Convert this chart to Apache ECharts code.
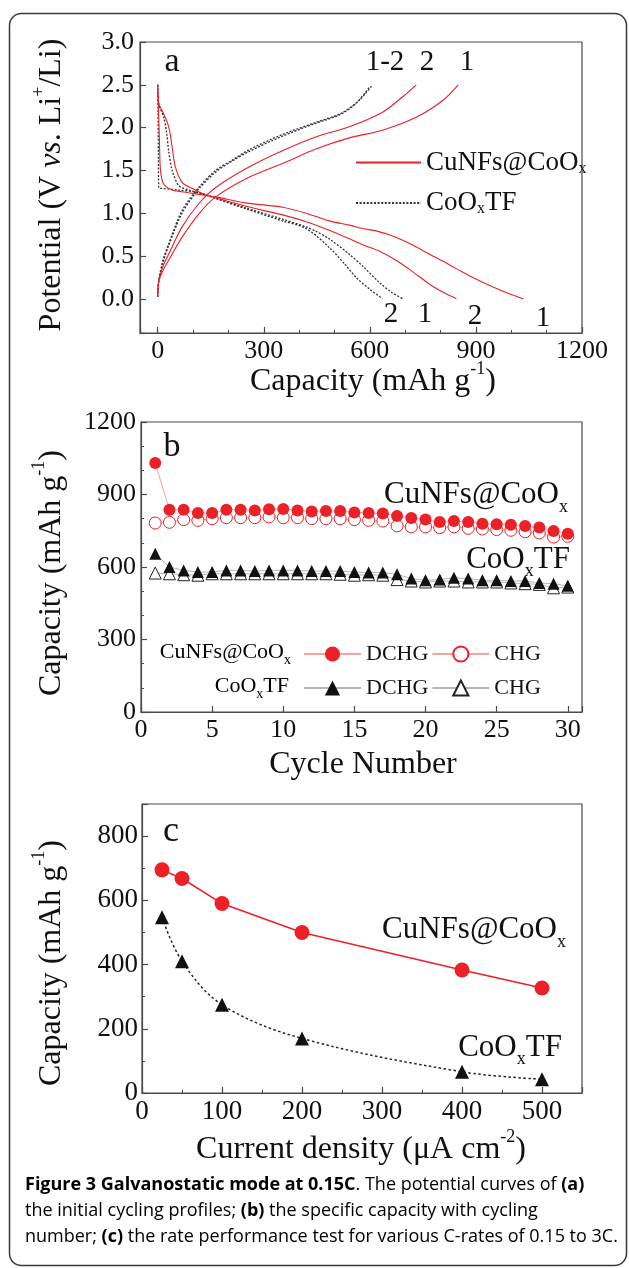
<!DOCTYPE html>
<html>
<head>
<meta charset="utf-8">
<script src="https://cdn.jsdelivr.net/npm/echarts@6/dist/echarts.min.js"></script>
<style>
  html, body { margin: 0; padding: 0; background: #fff; }
  #chart { width: 629px; height: 1268px; }
</style>
</head>
<body>
<div id="chart"></div>
<script>
// (a) potential profiles, [capacity mAh/g, potential V]
const cuDischarge1 = [[0,2.5],[2,2.25],[5,1.85],[8,1.5],[17,1.34],[41,1.27],[69,1.25],[116,1.22],[164,1.19],[250,1.12],[353,1.07],[420,1.0],[485,0.91],[542,0.86],[580,0.82],[620,0.79],[674,0.72],[720,0.63],[769,0.52],[820,0.41],[863,0.31],[910,0.21],[958,0.12],[1000,0.05],[1034,0]]
const cuDischarge2 = [[0,2.5],[3,2.28],[15,2.18],[31,2.01],[41,1.77],[50,1.54],[69,1.36],[97,1.29],[126,1.23],[164,1.18],[250,1.08],[353,0.98],[420,0.9],[485,0.8],[542,0.7],[580,0.63],[630,0.55],[674,0.45],[720,0.32],[769,0.17],[810,0.07],[845,0]]
const coDischarge1 = [[0,2.5],[1,2.2],[2,1.7],[3,1.3],[12,1.29],[60,1.27],[116,1.24],[164,1.18],[250,1.06],[353,0.93],[420,0.84],[447,0.79],[485,0.7],[542,0.52],[580,0.38],[627,0.19],[660,0.08],[693,0]]
const coDischarge2 = [[0,2.5],[3,2.28],[17,2.12],[25,1.95],[31,1.73],[41,1.5],[60,1.32],[88,1.27],[130,1.22],[164,1.17],[250,1.05],[353,0.91],[420,0.82],[485,0.6],[530,0.4],[561,0.25],[600,0.11],[636,0]]
const cuCharge1 = [[0,0.02],[3,0.2],[15,0.33],[31,0.45],[69,0.72],[116,0.99],[164,1.19],[258,1.42],[353,1.58],[447,1.75],[542,1.88],[636,1.97],[731,2.12],[807,2.32],[850,2.5]]
const cuCharge2 = [[0,0.02],[3,0.21],[15,0.38],[31,0.52],[69,0.84],[116,1.11],[164,1.3],[258,1.54],[353,1.73],[447,1.89],[542,2.01],[636,2.18],[693,2.36],[731,2.5]]
const coCharge1 = [[0,0.02],[3,0.21],[15,0.45],[31,0.64],[69,1.03],[116,1.3],[164,1.5],[211,1.62],[258,1.74],[353,1.92],[447,2.06],[520,2.17],[570,2.32],[608,2.5]]
const coCharge2 = [[0,0.02],[3,0.2],[15,0.42],[31,0.62],[69,1.0],[116,1.28],[164,1.48],[211,1.61],[258,1.72],[353,1.9],[447,2.05],[520,2.16],[565,2.3],[600,2.48]]

// (b) capacity vs cycle number
const cycleNo = [1,2,3,4,5,6,7,8,9,10,11,12,13,14,15,16,17,18,19,20,21,22,23,24,25,26,27,28,29,30]
const cuDchg = [1030,837,837,823,823,837,837,834,839,840,834,830,832,832,826,823,821,811,803,797,786,790,786,779,777,775,770,763,749,738]
const cuChg = [782,785,796,793,800,804,804,804,807,804,804,800,800,800,796,793,790,770,766,766,763,766,760,757,755,752,746,741,724,727]
const coDchg = [655,600,586,579,579,586,586,583,586,586,586,583,583,583,579,577,577,570,552,545,548,556,552,545,545,542,542,534,531,522]
const coChg = [575,572,568,566,572,572,572,572,572,572,572,572,572,570,566,568,566,548,542,538,542,542,538,538,538,534,531,528,514,517]

// (c) rate test
const currentDensity = [25,50,100,200,400,500]
const cuRate = [695,668,590,500,383,327]
const coRate = [547,410,275,170,66,43]

const serif = 'Liberation Serif'
const axisColor = '#4a4a4a'
const red = '#ec2027'
const pink = '#f4a3a3'

const zip = (xs, ys) => xs.map((x, i) => [x, ys[i]])

// rich styles for sub/superscripts
const rich = (size, lh, small, smallLh) => ({
    t: {fontFamily: serif, fontSize: size, lineHeight: lh, color: '#111'},
    i: {fontFamily: serif, fontSize: size, lineHeight: lh, fontStyle: 'italic', color: '#111'},
    sub: {fontFamily: serif, fontSize: small, lineHeight: smallLh, verticalAlign: 'bottom', color: '#111'},
    sup: {fontFamily: serif, fontSize: small, lineHeight: smallLh, verticalAlign: 'top', color: '#111'}
})

const chart = echarts.init(document.getElementById('chart'))

function axis(o) {
    return Object.assign({
        type: 'value',
        axisLine: {show: true, onZero: false, lineStyle: {color: axisColor, width: 1.2}},
        axisTick: {show: true, inside: true, length: 6, lineStyle: {color: axisColor, width: 1.2}},
        splitLine: {show: false},
    }, o)
}
const label = (size, margin, fmt) => ({color: '#111', fontFamily: serif, fontSize: size, margin: margin, formatter: fmt})

const gridBox = {show: true, borderColor: axisColor, borderWidth: 1.2, backgroundColor: 'transparent'}

const redLine = {color: red, width: 1.1}
const dotLine = {color: '#333', width: 1.3, type: [2, 1.6]}
const profile = (name, data, style) => ({
    name: name, type: 'line', xAxisIndex: 0, yAxisIndex: 0, data: data,
    showSymbol: false, symbol: 'none', smooth: 0.3, lineStyle: style, itemStyle: {color: style.color},
    silent: true, z: style === redLine ? 3 : 2
})

const txt = (x, y, text, r, extra) => Object.assign({
    type: 'text', x: x, y: y,
    style: {text: text, rich: r, align: 'center', verticalAlign: 'middle', fill: '#111'}
}, extra || {})

const option = {
    backgroundColor: '#fff',
    animation: false,
    grid: [
        Object.assign({left: 140, top: 42, width: 442, height: 291}, gridBox),
        Object.assign({left: 141, top: 422, width: 441, height: 290}, gridBox),
        Object.assign({left: 142, top: 804, width: 440, height: 289}, gridBox)
    ],
    xAxis: [
        axis({gridIndex: 0, min: -50, max: 1200, splitNumber: 4,
            minorTick: {show: true, splitNumber: 3, length: 3, lineStyle: {color: axisColor}},
            axisLabel: label(26, 5, v => (v >= 0 && v % 300 === 0) ? String(v) : '')}),
        axis({gridIndex: 1, min: 0, max: 31, interval: 5,
            axisLabel: label(26, 5, v => v % 5 === 0 ? String(v) : '')}),
        axis({gridIndex: 2, min: 0, max: 550, interval: 100,
            minorTick: {show: true, splitNumber: 2, length: 3, lineStyle: {color: axisColor}},
            axisLabel: label(27, 5, v => v % 100 === 0 ? String(v) : '')})
    ],
    yAxis: [
        axis({gridIndex: 0, min: -0.4, max: 3.0, splitNumber: 7,
            axisLabel: label(26, 6, v => (v >= 0 && Math.abs(v * 2 - Math.round(v * 2)) < 1e-6) ? v.toFixed(1) : '')}),
        axis({gridIndex: 1, min: 0, max: 1200, interval: 300,
            minorTick: {show: true, splitNumber: 3, length: 3, lineStyle: {color: axisColor}},
            axisLabel: label(26, 5, v => String(v))}),
        axis({gridIndex: 2, min: 0, max: 900, interval: 200,
            minorTick: {show: true, splitNumber: 2, length: 3, lineStyle: {color: axisColor}},
            axisLabel: label(27, 4, v => v % 200 === 0 ? String(v) : '')})
    ],
    legend: [
        {
            data: ['CuNFs@CoOx', 'CoOxTF'], orient: 'vertical', left: 350, top: 144,
            itemWidth: 65, itemHeight: 12, itemGap: 13, selectedMode: false,
            itemStyle: {opacity: 0},
            textStyle: {rich: rich(27, 28, 16, 12)},
            formatter: n => n === 'CoOxTF' ? '{t|CoO}{sub|x}{t|TF}' : '{t|CuNFs@CoO}{sub|x}'
        },
        {
            data: ['CuNFs DCHG', 'CuNFs CHG'], left: 298, top: 638,
            itemWidth: 57, itemHeight: 19, itemGap: 3, selectedMode: false,
            textStyle: {fontFamily: serif, fontSize: 22, color: '#111'},
            formatter: n => n.split(' ')[1]
        },
        {
            data: ['CoOx DCHG', 'CoOx CHG'], left: 298, top: 672,
            itemWidth: 57, itemHeight: 19, itemGap: 3, selectedMode: false,
            textStyle: {fontFamily: serif, fontSize: 22, color: '#111'},
            formatter: n => n.split(' ')[1]
        }
    ],
    series: [
        profile('CoOxTF', coDischarge1, dotLine),
        profile('CoOxTF', coDischarge2, dotLine),
        profile('CoOxTF', coCharge1, dotLine),
        profile('CoOxTF', coCharge2, dotLine),
        profile('CuNFs@CoOx', cuDischarge1, redLine),
        profile('CuNFs@CoOx', cuDischarge2, redLine),
        profile('CuNFs@CoOx', cuCharge1, redLine),
        profile('CuNFs@CoOx', cuCharge2, redLine),

        {name: 'CoOx CHG', type: 'line', xAxisIndex: 1, yAxisIndex: 1, data: zip(cycleNo, coChg),
            symbol: 'triangle', symbolSize: 12, lineStyle: {color: '#b5b5b5', width: 1},
            itemStyle: {color: '#fff', borderColor: '#222', borderWidth: 1}},
        {name: 'CoOx DCHG', type: 'line', xAxisIndex: 1, yAxisIndex: 1, data: zip(cycleNo, coDchg),
            symbol: 'triangle', symbolSize: 12, lineStyle: {color: '#b5b5b5', width: 1},
            itemStyle: {color: '#111'}},
        {name: 'CuNFs CHG', type: 'line', xAxisIndex: 1, yAxisIndex: 1, data: zip(cycleNo, cuChg),
            symbol: 'circle', symbolSize: 12, lineStyle: {color: pink, width: 1},
            itemStyle: {color: '#fff', borderColor: red, borderWidth: 1}},
        {name: 'CuNFs DCHG', type: 'line', xAxisIndex: 1, yAxisIndex: 1, data: zip(cycleNo, cuDchg),
            symbol: 'circle', symbolSize: 12, lineStyle: {color: pink, width: 1},
            itemStyle: {color: red}},

        {name: 'CoOx rate', type: 'line', xAxisIndex: 2, yAxisIndex: 2, data: zip(currentDensity, coRate),
            symbol: 'triangle', symbolSize: 14, smooth: 0.35,
            lineStyle: {color: '#222', width: 1.5, type: [2.5, 2.5]}, itemStyle: {color: '#111'}},
        {name: 'CuNFs rate', type: 'line', xAxisIndex: 2, yAxisIndex: 2, data: zip(currentDensity, cuRate),
            symbol: 'circle', symbolSize: 15,
            lineStyle: {color: red, width: 1.5}, itemStyle: {color: red}}
    ],
    graphic: [
        // figure frame
        {type: 'rect', shape: {x: 9.5, y: 13.5, width: 617, height: 1252, r: 12},
            style: {fill: 'none', stroke: '#3a3a3a', lineWidth: 1.5}, z: -1},

        // panel a texts
        txt(172, 62, '{t|a}', rich(34, 40, 18, 18)),
        txt(385, 62, '{t|1-2}', rich(29, 32, 16, 16)),
        txt(427, 62, '{t|2}', rich(29, 32, 16, 16)),
        txt(467, 62, '{t|1}', rich(29, 32, 16, 16)),
        txt(391, 314, '{t|2}', rich(29, 32, 16, 16)),
        txt(425, 314, '{t|1}', rich(29, 32, 16, 16)),
        txt(475, 316, '{t|2}', rich(29, 32, 16, 16)),
        txt(543, 318, '{t|1}', rich(29, 32, 16, 16)),
        txt(52, 185, '{t|Potential (V }{i|vs}{t|. Li}{sup|+}{t|/Li)}', rich(32, 44, 18, 18), {rotation: Math.PI / 2}),
        txt(373, 382, '{t|Capacity (mAh g}{sup|-1}{t|)}', rich(32, 44, 18, 18)),

        // panel b texts
        txt(172, 447, '{t|b}', rich(34, 40, 18, 18)),
        txt(476, 495, '{t|CuNFs@CoO}{sub|x}', rich(31, 42, 18, 18)),
        txt(518, 560, '{t|CoO}{sub|x}{t|TF}', rich(31, 40, 18, 18)),
        {type: 'text', x: 291, y: 652, style: {text: '{t|CuNFs@CoO}{sub|x}', rich: rich(22, 30, 14, 14), align: 'right', verticalAlign: 'middle'}},
        {type: 'text', x: 289, y: 686, style: {text: '{t|CoO}{sub|x}{t|TF}', rich: rich(22, 30, 14, 14), align: 'right', verticalAlign: 'middle'}},
        txt(52, 573, '{t|Capacity (mAh g}{sup|-1}{t|)}', rich(32, 44, 18, 18), {rotation: Math.PI / 2}),
        txt(363, 765, '{t|Cycle Number}', rich(32, 40, 18, 18)),

        // panel c texts
        txt(171, 832, '{t|c}', rich(36, 40, 18, 18)),
        txt(474, 930, '{t|CuNFs@CoO}{sub|x}', rich(31, 42, 18, 18)),
        txt(510, 1048, '{t|CoO}{sub|x}{t|TF}', rich(31, 40, 18, 18)),
        txt(52, 963, '{t|Capacity (mAh g}{sup|-1}{t|)}', rich(32, 44, 18, 18), {rotation: Math.PI / 2}),
        txt(361, 1150, '{t|Current density (\u03bcA cm}{sup|-2}{t|)}', rich(32, 44, 18, 18)),

        // caption
        {type: 'text', x: 25, y: 1172, style: {
            text: '{b|Figure 3 Galvanostatic mode at 0.15C}{r|. The potential curves of }{b|(a)}\n' +
                  '{r|the initial cycling profiles; }{b|(b)}{r| the specific capacity with cycling}\n' +
                  '{r|number; }{b|(c)}{r| the rate performance test for various C-rates of 0.15 to 3C.}',
            align: 'left', verticalAlign: 'top',
            rich: {
                b: {fontFamily: 'Open Sans', fontSize: 18, fontWeight: 'bold', color: '#222', lineHeight: 26},
                r: {fontFamily: 'Open Sans', fontSize: 18, color: '#3c3c3c', lineHeight: 26}
            }
        }}
    ]
}

chart.setOption(option)
</script>
</body>
</html>
